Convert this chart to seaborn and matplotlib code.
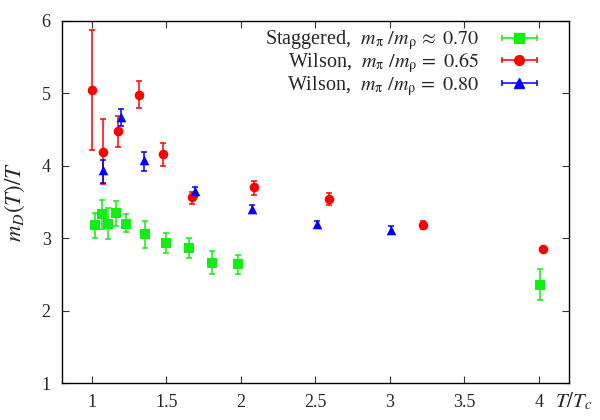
import numpy as np
import pandas as pd
import matplotlib
matplotlib.use("Agg")
import matplotlib.pyplot as plt
import seaborn as sns
from matplotlib.lines import Line2D
from matplotlib.legend_handler import HandlerLine2D

# Staggered, m_pi/m_rho ~ 0.70
stag_x = [1.02, 1.07, 1.11, 1.163, 1.232, 1.36, 1.50, 1.65, 1.81, 1.98, 4.01]
stag_y = [3.18, 3.33, 3.20, 3.34, 3.20, 3.05, 2.93, 2.86, 2.66, 2.64, 2.35]
stag_lo = [3.00, 3.13, 2.99, 3.17, 3.08, 2.86, 2.79, 2.72, 2.50, 2.50, 2.14]
stag_hi = [3.35, 3.52, 3.41, 3.51, 3.33, 3.24, 3.07, 3.00, 2.82, 2.77, 2.57]

# Wilson, m_pi/m_rho = 0.65
w65_x = [1.00, 1.076, 1.18, 1.32, 1.48, 1.67, 2.09, 2.595, 3.22, 4.025]
w65_y = [5.04, 4.19, 4.47, 4.97, 4.16, 3.57, 3.70, 3.54, 3.18, 2.85]
w65_lo = [4.21, 3.74, 4.25, 4.79, 4.00, 3.47, 3.60, 3.46, 3.12, 2.83]
w65_hi = [5.87, 4.64, 4.69, 5.17, 4.31, 3.64, 3.79, 3.62, 3.24, 2.87]

# Wilson, m_pi/m_rho = 0.80
w80_x = [1.078, 1.20, 1.35, 1.69, 2.075, 2.51, 3.01]
w80_y = [3.94, 4.67, 4.07, 3.65, 3.40, 3.19, 3.11]
w80_lo = [3.76, 4.54, 3.93, 3.57, 3.34, 3.15, 3.05]
w80_hi = [4.08, 4.78, 4.19, 3.71, 3.46, 3.23, 3.17]

labels = [r"Staggered,  $m_{\mathrm{\pi}}\ /m_{\mathrm{\rho}}\,\approx\ \mathrm{0.70}$",
          r"Wilson,  $m_{\mathrm{\pi}}\ /m_{\mathrm{\rho}}\,=\ \mathrm{0.65}$",
          r"Wilson,  $m_{\mathrm{\pi}}\ /m_{\mathrm{\rho}}\,=\ \mathrm{0.80}$"]
colors = ["#11ee11", "#ff0000", "#0000ff"]
markers = ["s", "o", "^"]

sns.set_style("ticks")
plt.rcParams["font.family"] = ["Liberation Serif", "DejaVu Serif"]
plt.rcParams["mathtext.fontset"] = "stix"
plt.rcParams["xtick.direction"] = "in"
plt.rcParams["ytick.direction"] = "in"

fig = plt.figure(figsize=(6, 4.2), dpi=100)
ax = fig.add_axes([0.103, 0.088, 0.845, 0.863])

series = [(stag_x, stag_y, stag_lo, stag_hi),
          (w65_x, w65_y, w65_lo, w65_hi),
          (w80_x, w80_y, w80_lo, w80_hi)]

handles = []
hmap = {}
for (x, y, lo, hi), lab, c, m in zip(series, labels, colors, markers):
    df = pd.DataFrame({"x": x, "y": y})
    yerr = [np.array(y) - np.array(lo), np.array(hi) - np.array(y)]
    ax.errorbar(x, y, yerr=yerr, fmt="none", ecolor=c, elinewidth=1.1,
                capsize=2.5, capthick=1.1, zorder=2)
    sns.scatterplot(data=df, x="x", y="y", marker=m, color=c, s=48,
                    edgecolor=c, linewidth=0, ax=ax, zorder=3)
    caps = Line2D([], [], color=c, lw=1.1, marker="|", markersize=5,
                  markeredgewidth=1.1)
    mark = Line2D([], [], color=c, lw=0, marker=m, markersize=7)
    hmap[caps] = HandlerLine2D(numpoints=2)
    hmap[mark] = HandlerLine2D(numpoints=1)
    handles.append((caps, mark))

ax.set_xlim(0.8, 4.2)
ax.set_ylim(1, 6)
ax.set_xticks([1, 1.5, 2, 2.5, 3, 3.5, 4])
ax.set_xticklabels(["1", "1.5", "2", "2.5", "3", "3.5", "4"])
ax.set_yticks([1, 2, 3, 4, 5, 6])
ax.tick_params(axis="both", which="both", top=True, right=True,
               length=5, width=0.8, labelsize=13, color="#333333")
ax.tick_params(axis="x", pad=8)
ax.tick_params(axis="y", pad=8)
for sp in ax.spines.values():
    sp.set_linewidth(1.0)
    sp.set_color("black")

ax.set_xlabel("")
ax.set_ylabel(r"$m_D(T)/T$", fontsize=16.5)
ax.yaxis.set_label_coords(-0.068, 0.5)
ax.text(0.972, -0.052, r"$T/T_c$", transform=ax.transAxes,
        ha="left", va="center", fontsize=15)

leg = ax.legend(handles, labels, handler_map=hmap, loc="upper right",
                bbox_to_anchor=(0.961, 0.995),
                markerfirst=False, frameon=False, fontsize=14.5,
                handlelength=2.35, handletextpad=0.8, labelspacing=-0.06,
                borderaxespad=0, borderpad=0.3)

fig.savefig("out.png", dpi=100)
